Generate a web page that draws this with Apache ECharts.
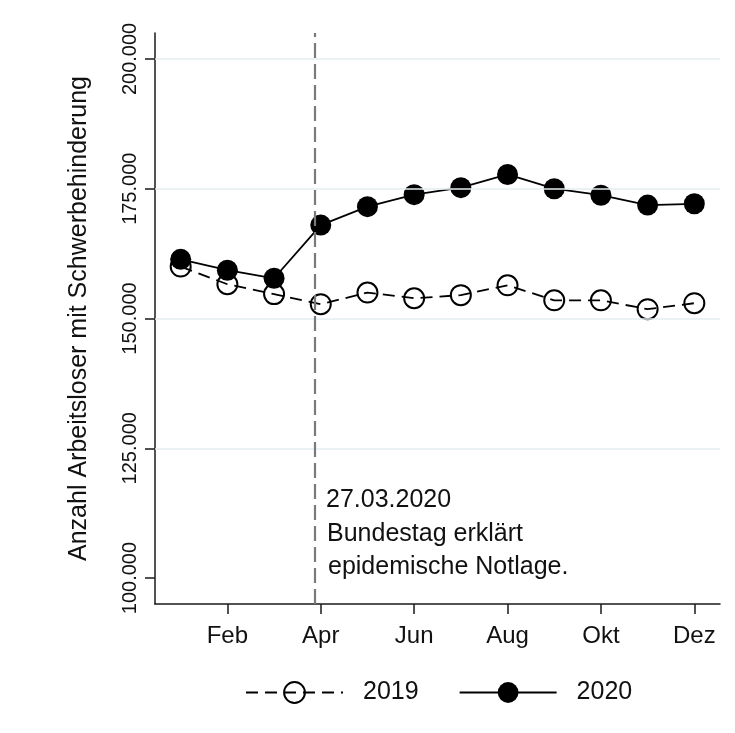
<!DOCTYPE html>
<html>
<head>
<meta charset="utf-8">
<script src="https://cdn.jsdelivr.net/npm/echarts@6/dist/echarts.min.js"></script>
<style>
html,body{margin:0;padding:0;background:#fff;}
#c{width:735px;height:733px;}
</style>
</head>
<body>
<div id="c"></div>
<script>
var months = [1,2,3,4,5,6,7,8,9,10,11,12];
var monthNames = {2:'Feb',4:'Apr',6:'Jun',8:'Aug',10:'Okt',12:'Dez'};
var xTicks = [2,4,6,8,10,12];
var yTicks = [100000,125000,150000,175000,200000];
var gridValues = [125000,150000,175000,200000];
var values2019 = [160000,156600,154700,152750,155000,153900,154500,156400,153500,153500,151800,152950];
var values2020 = [161400,159300,157750,168000,171550,173850,175200,177750,175000,173750,171850,172100];
var eventX = 3.87; // 27.03.2020
var annotation = ['27.03.2020','Bundestag erklärt','epidemische Notlage.'];

function fmtDE(v){
  return String(Math.round(v)).replace(/\B(?=(\d{3})+(?!\d))/g,'.');
}
function pairs(vals){ return months.map(function(m,i){ return [m, vals[i]]; }); }

var FONT = '"Liberation Sans", Arial, sans-serif';
var chart = echarts.init(document.getElementById('c'), null, {renderer:'canvas'});
chart.setOption({
  animation:false,
  backgroundColor:'#fff',
  textStyle:{fontFamily:FONT},
  grid:{left:155, right:15, top:33, bottom:129, containLabel:false},
  xAxis:{
    type:'value', min:0.45, max:12.55,
    axisLine:{show:true, onZero:false, lineStyle:{color:'#1a1a1a', width:1.5}},
    axisTick:{show:true, customValues:xTicks, length:10, lineStyle:{color:'#1a1a1a', width:1.5}},
    axisLabel:{customValues:xTicks, margin:20, fontSize:24, color:'#111', fontFamily:FONT,
      formatter:function(v){ return monthNames[v] || ''; }},
    splitLine:{show:false}
  },
  yAxis:{
    type:'value', min:95000, max:205000,
    name:'Anzahl Arbeitsloser mit Schwerbehinderung', nameLocation:'middle', nameGap:63,
    nameTextStyle:{fontSize:25, color:'#111', fontFamily:FONT},
    axisLine:{show:true, onZero:false, lineStyle:{color:'#1a1a1a', width:1.5}},
    axisTick:{show:true, customValues:yTicks, length:10, lineStyle:{color:'#1a1a1a', width:1.5}},
    axisLabel:{customValues:yTicks, rotate:90, margin:15, fontSize:20, color:'#111', fontFamily:FONT,
      formatter:function(v){ return fmtDE(v); }},
    splitLine:{show:false}
  },
  legend:{
    data:['2019','2020'], left:240, top:675, itemWidth:97, itemHeight:26, itemGap:40,
    textStyle:{fontSize:25, color:'#111', fontFamily:FONT, padding:[0,0,0,15]}
  },
  series:[
    {
      name:'grid', type:'line', data:[], z:1, silent:true,
      markLine:{silent:true, symbol:['none','none'], label:{show:false},
        lineStyle:{color:'#e3eef0', width:1.5, type:'solid'},
        data: gridValues.map(function(v){ return {yAxis:v}; })}
    },
    {
      name:'vline', type:'line', data:[], z:2, silent:true,
      markLine:{silent:true, symbol:['none','none'], label:{show:false},
        lineStyle:{color:'#7a7a7a', width:2.2, type:[15,6]},
        data:[{xAxis:eventX}]}
    },
    {
      name:'2019', type:'line', data:pairs(values2019), z:3,
      symbol:'circle', symbolSize:20,
      lineStyle:{color:'#000', width:1.8, type:[12,7]},
      itemStyle:{color:'rgba(255,255,255,0)', borderColor:'#000', borderWidth:2}
    },
    {
      name:'2020', type:'line', data:pairs(values2020), z:4,
      symbol:'circle', symbolSize:21,
      lineStyle:{color:'#000', width:1.8, type:'solid'},
      itemStyle:{color:'#000', borderColor:'#000', borderWidth:0}
    }
  ],
  graphic:[
    {type:'text', left:326, top:488, style:{text:annotation[0], font:'25px '+FONT, fill:'#111'}},
    {type:'text', left:327, top:522, style:{text:annotation[1], font:'25px '+FONT, fill:'#111'}},
    {type:'text', left:328, top:555, style:{text:annotation[2], font:'25px '+FONT, fill:'#111'}}
  ]
});
</script>
</body>
</html>
